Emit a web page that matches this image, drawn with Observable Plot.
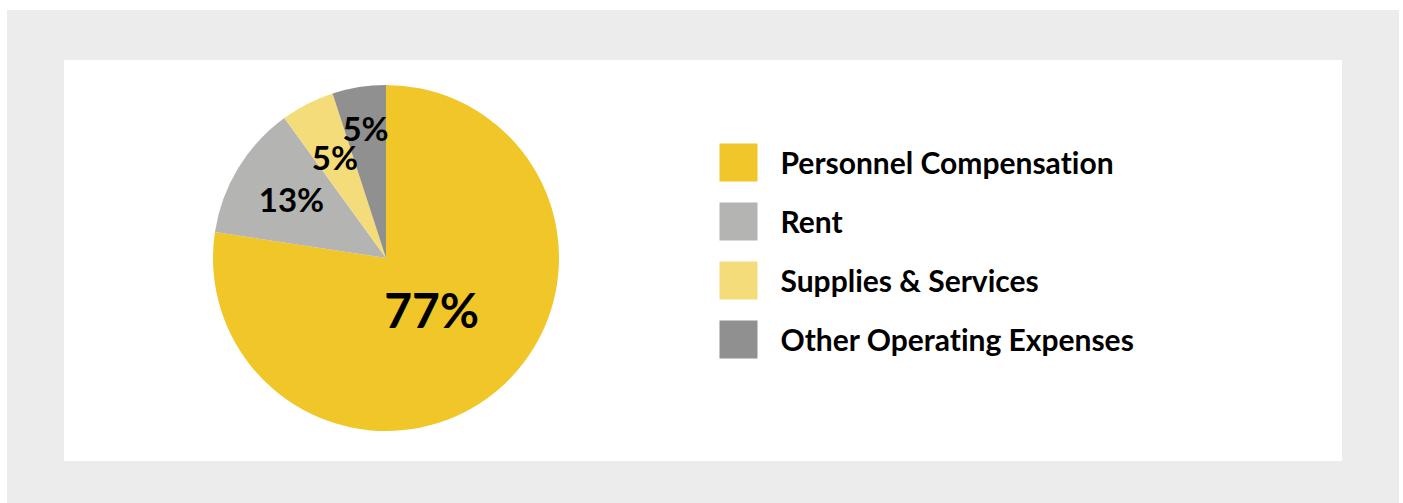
<!DOCTYPE html>
<html>
<head>
<meta charset="utf-8">
<script src="https://cdn.jsdelivr.net/npm/d3@7"></script>
<script src="https://cdn.jsdelivr.net/npm/@observablehq/plot@0.6"></script>
<style>
  html, body { margin: 0; padding: 0; background: #ffffff; width: 1403px; height: 503px; overflow: hidden; }
  #frame { position: absolute; left: 7px; top: 10px; width: 1392px; height: 493px; background: #ececec; }
  #panel { position: absolute; left: 57px; top: 50px; width: 1278px; height: 401px; background: #ffffff; }
  #panel svg { position: absolute; left: 0; top: 0; }
  #panel svg text { font-variant-ligatures: none; }
</style>
</head>
<body>
<div id="frame"><div id="panel"></div></div>
<script>
// ---- data ----
const categories = ["Personnel Compensation", "Rent", "Supplies & Services", "Other Operating Expenses"];
const shares = [77.4, 12.6, 5.0, 5.0];
const shareLabels = ["77%", "13%", "5%", "5%"];
const colors = ["#f0c629", "#b4b4b3", "#f5dc7b", "#8f908f"];

const data = categories.map((c, i) => ({category: c, share: shares[i], label: shareLabels[i]}));

const FONT = "Lato, 'Open Sans', sans-serif";
const colorScale = Plot.scale({color: {domain: categories, range: colors}});

function pieMark(index, scales, values, dimensions) {
  const cx = 322, cy = 198, R = 173;
  const arcs = d3.pie().sort(null).value(d => d.share)(data);
  const arc = d3.arc().innerRadius(0).outerRadius(R);
  const labelR = [0.405, 0.64, 0.65, 0.757];
  const g = d3.create("svg:g").attr("transform", `translate(${cx},${cy})`);
  g.selectAll("path").data(arcs).join("path")
    .attr("d", arc)
    .attr("fill", d => colorScale.apply(d.data.category));
  g.selectAll("text").data(arcs).join("text")
    .attr("transform", (d, i) => {
      const a = (d.startAngle + d.endAngle) / 2;
      const r = R * labelR[i];
      return `translate(${r * Math.sin(a)},${-r * Math.cos(a)})`;
    })
    .attr("text-anchor", "middle")
    .attr("font-family", FONT)
    .attr("font-weight", "bold")
    .attr("font-size", d => d.data.share > 50 ? 48 : 33)
    .attr("dy", d => (d.data.share > 50 ? 48 : 33) * 0.36)
    .attr("fill", "#000")
    .text(d => d.data.label);
  return g.node();
}

const chart = Plot.plot({
  width: 1278,
  height: 401,
  margin: 0,
  style: {background: "transparent", overflow: "visible"},
  y: {type: "point", domain: categories, range: [101, 280], padding: 0, axis: null},
  color: {domain: categories, range: colors},
  marks: [
    pieMark,
    Plot.dot(categories, {
      y: d => d, frameAnchor: "left", dx: 674,
      symbol: "square", r: 38 / Math.sqrt(Math.PI), fill: d => d, stroke: null
    }),
    Plot.text(categories, {
      y: d => d, text: d => d, frameAnchor: "left", dx: 716, dy: 2,
      textAnchor: "start", fontSize: 30, fontWeight: "bold", fontFamily: FONT, fill: "#000"
    })
  ]
});
document.getElementById("panel").appendChild(chart);
</script>
</body>
</html>
